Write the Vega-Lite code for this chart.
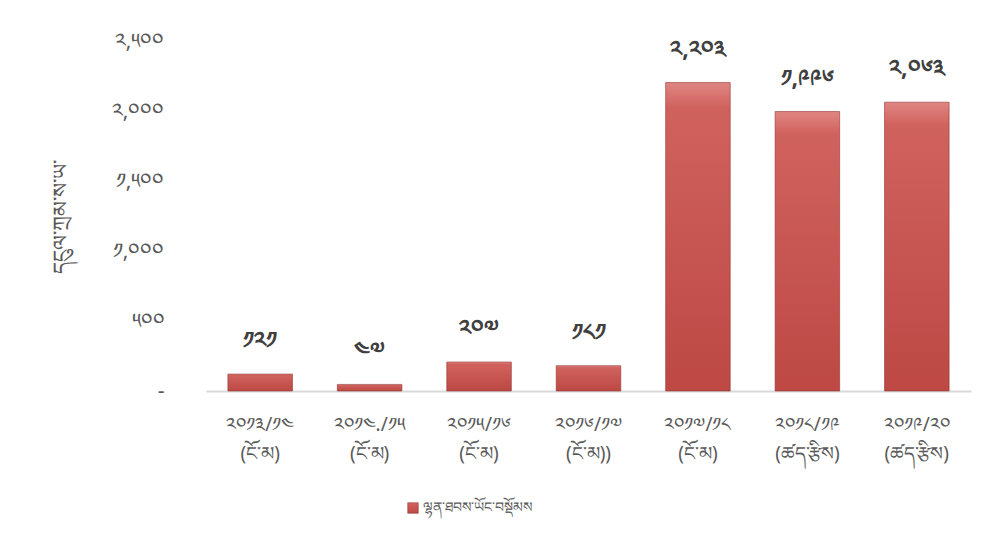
{
  "$schema": "https://vega.github.io/schema/vega-lite/v6.json",
  "autosize": {"type": "none"},
  "padding": {"left": 206, "top": 41, "right": 30, "bottom": 152},
  "width": 765,
  "height": 350,
  "background": "white",
  "config": {
    "view": {"stroke": null},
    "font": "Noto Sans"
  },
  "data": {
    "values": [
      {"period": "༢༠༡༣/༡༤ (ངོ་མ)", "value": 121, "label": "༡༢༡", "series": "ལྷན་ཐབས་ཡོང་བསྡོམས"},
      {"period": "༢༠༡༤./༡༥ (ངོ་མ)", "value": 47, "label": "༤༧", "series": "ལྷན་ཐབས་ཡོང་བསྡོམས"},
      {"period": "༢༠༡༥/༡༦ (ངོ་མ)", "value": 207, "label": "༢༠༧", "series": "ལྷན་ཐབས་ཡོང་བསྡོམས"},
      {"period": "༢༠༡༦/༡༧ (ངོ་མ))", "value": 181, "label": "༡༨༡", "series": "ལྷན་ཐབས་ཡོང་བསྡོམས"},
      {"period": "༢༠༡༧/༡༨ (ངོ་མ)", "value": 2203, "label": "༢,༢༠༣", "series": "ལྷན་ཐབས་ཡོང་བསྡོམས"},
      {"period": "༢༠༡༨/༡༩ (ཚད་རྩིས)", "value": 1996, "label": "༡,༩༩༦", "series": "ལྷན་ཐབས་ཡོང་བསྡོམས"},
      {"period": "༢༠༡༩/༢༠ (ཚད་རྩིས)", "value": 2063, "label": "༢,༠༦༣", "series": "ལྷན་ཐབས་ཡོང་བསྡོམས"}
    ]
  },
  "encoding": {
    "x": {
      "field": "period",
      "type": "nominal",
      "sort": null,
      "scale": {"paddingInner": 0.41, "paddingOuter": 0.2},
      "axis": {
        "title": null,
        "labelAngle": 0,
        "labelExpr": "split(datum.label, ' ')",
        "labelColor": "#595959",
        "labelFontSize": 19,
        "labelPadding": 24,
        "labelLineHeight": 29,
        "ticks": false,
        "domainColor": "#d9d9d9",
        "domainWidth": 2
      }
    },
    "y": {
      "field": "value",
      "type": "quantitative",
      "scale": {"domain": [0, 2500], "nice": false},
      "axis": {
        "title": "དངུལ་ཀྲམ་ས་ཡ་",
        "titleColor": "#595959",
        "titleFontSize": 21,
        "titleFontWeight": "normal",
        "titlePadding": 40,
        "values": [0, 500, 1000, 1500, 2000, 2500],
        "labelExpr": "datum.value == 0 ? '-' : replace(replace(replace(replace(format(datum.value, ','), regexp('0','g'), '༠'), regexp('1','g'), '༡'), regexp('2','g'), '༢'), regexp('5','g'), '༥')",
        "labelColor": "#595959",
        "labelFontSize": 21,
        "labelPadding": 42,
        "grid": false,
        "ticks": false,
        "domain": false
      }
    }
  },
  "layer": [
    {
      "mark": {
        "type": "bar",
        "fill": {
          "gradient": "linear",
          "x1": 0, "y1": 0, "x2": 0, "y2": 1,
          "stops": [
            {"offset": 0, "color": "#e08682"},
            {"offset": 0.08, "color": "#d0625e"},
            {"offset": 1, "color": "#bd4844"}
          ]
        },
        "strokeWidth": 0.6
      },
      "encoding": {
        "stroke": {
          "field": "series",
          "type": "nominal",
          "scale": {"range": ["#8e3532"]},
          "legend": {
            "title": null,
            "orient": "none",
            "legendX": 200,
            "legendY": 460,
            "symbolType": "square",
            "symbolSize": 110,
            "symbolFillColor": "#c0504d",
            "symbolStrokeWidth": 0.6,
            "labelColor": "#595959",
            "labelFontSize": 14,
            "labelOffset": 3
          }
        }
      }
    },
    {
      "mark": {
        "type": "text",
        "dy": -33,
        "baseline": "middle",
        "fontSize": 23,
        "fontWeight": "bold",
        "color": "#404040"
      },
      "encoding": {
        "text": {"field": "label", "type": "nominal"}
      }
    }
  ]
}
